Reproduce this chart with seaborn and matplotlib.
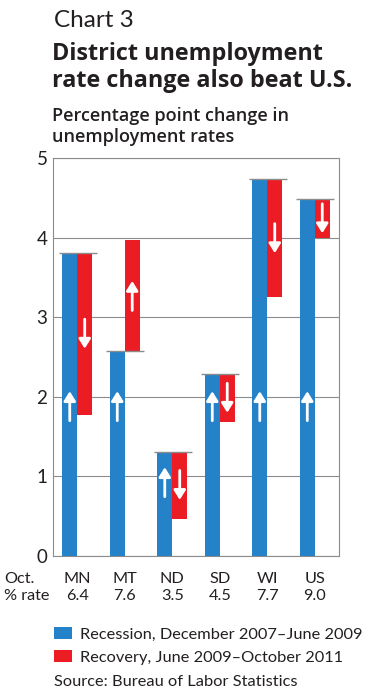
import numpy as np
import pandas as pd
import matplotlib
matplotlib.use("Agg")
import matplotlib.pyplot as plt
import matplotlib.transforms as mtransforms
from matplotlib.patches import Rectangle
import seaborn as sns

# ---------------- data ----------------
states = ["MN", "MT", "ND", "SD", "WI", "US"]
oct_rate = ["6.4", "7.6", "3.5", "4.5", "7.7", "9.0"]
recession = [3.81, 2.57, 1.31, 2.29, 4.73, 4.49]
recovery = [-2.04, 1.40, -0.84, -0.61, -1.48, -0.50]
yticks = [0, 1, 2, 3, 4, 5]
series_names = ["Recession, December 2007\u2013June 2009",
                "Recovery, June 2009\u2013October 2011"]

BLUE = "#2581c8"
RED = "#ec1c24"
GRID = "#8c8c8c"
TEXT = "#231f20"
W, H = 372, 695

sns.set_theme(style="white")
plt.rcParams["font.family"] = ["Lato", "DejaVu Sans"]
plt.rcParams["text.color"] = TEXT
TITLE_FONT = ["Open Sans", "DejaVu Sans"]

fig = plt.figure(figsize=(W / 100, H / 100), dpi=100)
fig.patch.set_facecolor("white")
ax = fig.add_axes([53 / W, (H - 556) / H, 286 / W, 398 / H])


def fy(px):
    return 1 - px / H


def fx(px):
    return px / W


df = pd.DataFrame({
    "state": states * 2,
    "series": [series_names[0]] * len(states) + [series_names[1]] * len(states),
    "value": recession + [r + c for r, c in zip(recession, recovery)],
})

sns.barplot(data=df, x="state", y="value", hue="series", order=states,
            hue_order=series_names, palette=[BLUE, RED], width=0.63, gap=0,
            dodge=True, saturation=1, errorbar=None, legend=False,
            linewidth=0, ax=ax, zorder=3)

# red bars float from the recession level
for p, r, c in zip(ax.containers[1], recession, recovery):
    p.set_y(min(r, r + c))
    p.set_height(abs(c))

xpos = np.arange(len(states))
bw = 0.315

# gray marker lines at top of recession bars
ax.hlines(recession, xpos - bw - 0.075, xpos + bw + 0.1, color=GRID, lw=1.0, zorder=4)

# arrows
aprops = dict(arrowstyle="-|>,head_length=0.45,head_width=0.28", color="white",
              lw=2.0, shrinkA=0, shrinkB=0, mutation_scale=12.5)
half = 0.185
for i, (r, c) in enumerate(zip(recession, recovery)):
    cy = min(1.885, r - 0.38)
    ax.annotate("", xy=(i - bw / 2, cy + half), xytext=(i - bw / 2, cy - half),
                arrowprops=aprops, zorder=5)
    cy2 = r + c / 2
    s = np.sign(c)
    ax.annotate("", xy=(i + bw / 2, cy2 + s * half), xytext=(i + bw / 2, cy2 - s * half),
                arrowprops=aprops, zorder=5)

ax.set_xlim(-0.51, len(states) - 0.49)
ax.set_ylim(0, 5)
ax.set_yticks(yticks)
ax.set_yticklabels([str(t) for t in yticks], fontsize=13.5, color=TEXT)
ax.tick_params(axis="y", length=0, pad=4)
ax.set_xticks(xpos)
ax.set_xticklabels([])
ax.tick_params(axis="x", length=0)
ax.set_xlabel("")
ax.set_ylabel("")
ax.grid(axis="y", color=GRID, lw=0.8)
ax.grid(axis="x", visible=False)
ax.set_axisbelow(True)
for sp in ax.spines.values():
    sp.set_color(GRID)
    sp.set_linewidth(0.8)

# category rows
tr = mtransforms.blended_transform_factory(ax.transData, fig.transFigure)
for i, (st, rt) in enumerate(zip(states, oct_rate)):
    ax.text(i, fy(583), st, transform=tr, ha="center", va="baseline", fontsize=11.7)
    ax.text(i, fy(599.5), rt, transform=tr, ha="center", va="baseline", fontsize=11.7)
fig.text(fx(4), fy(583), "Oct.", ha="left", va="baseline", fontsize=11.7)
fig.text(fx(4), fy(599.5), "% rate", ha="left", va="baseline", fontsize=11.7)

# titles
fig.text(fx(54), fy(27), "Chart 3", fontsize=17.5, va="baseline")
fig.text(fx(52), fy(59.5), "District unemployment", fontsize=16.8, weight="bold",
         va="baseline", family=TITLE_FONT)
fig.text(fx(52), fy(87), "rate change also beat U.S.", fontsize=16.8, weight="bold",
         va="baseline", family=TITLE_FONT)
fig.text(fx(52), fy(121), "Percentage point change in", fontsize=13, weight="semibold",
         va="baseline", family=TITLE_FONT)
fig.text(fx(52), fy(141.5), "unemployment rates", fontsize=13, weight="semibold",
         va="baseline", family=TITLE_FONT)

# legend
for col, name, top, base in [(BLUE, series_names[0], 627, 639), (RED, series_names[1], 650, 662.3)]:
    fig.patches.append(Rectangle((fx(54), fy(top + 12)), 18 / W, 12 / H,
                                 transform=fig.transFigure, facecolor=col, edgecolor="none"))
    fig.text(fx(80), fy(base), name, fontsize=11.75, va="baseline")
fig.text(fx(54), fy(685.7), "Source: Bureau of Labor Statistics", fontsize=11.75, va="baseline")

fig.savefig("out.png", dpi=100, facecolor="white")
